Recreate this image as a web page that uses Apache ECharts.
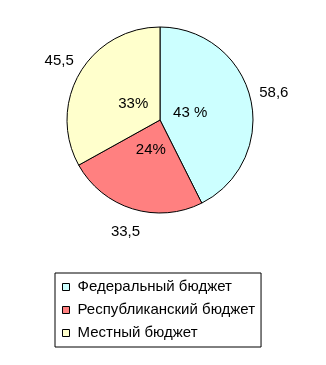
<!DOCTYPE html>
<html>
<head>
<meta charset="utf-8">
<script src="https://cdn.jsdelivr.net/npm/echarts@6/dist/echarts.min.js"></script>
<style>html,body{margin:0;padding:0;background:#fff;}#c{width:326px;height:365px;}</style>
</head>
<body>
<div id="c"></div>
<script>
const categories = ['Федеральный бюджет', 'Республиканский бюджет', 'Местный бюджет'];
const values = [58.6, 33.5, 45.5];
const percentLabels = ['43 %', '24%', '33%'];
const colors = ['#CCFFFF', '#FF8080', '#FFFFCC'];

const font = 'Liberation Sans, Arial, sans-serif';
const chart = echarts.init(document.getElementById('c'), null, {renderer: 'canvas'});

const mainData = categories.map((n, i) => ({name: n, value: values[i], itemStyle: {color: colors[i]}}));
const pctData = categories.map((n, i) => ({name: n, value: values[i], pct: percentLabels[i]}));

chart.setOption({
  animation: false,
  backgroundColor: '#fff',
  legend: {
    orient: 'vertical',
    left: 55,
    top: 273,
    padding: [6, 6, 6, 7],
    itemGap: 7,
    itemWidth: 7,
    itemHeight: 7,
    icon: 'rect',
    borderColor: '#000',
    borderWidth: 1,
    borderRadius: 0,
    backgroundColor: '#fff',
    selectedMode: false,
    itemStyle: {borderColor: '#000', borderWidth: 1},
    textStyle: {fontFamily: font, fontSize: 15, color: '#000', lineHeight: 16, padding: [0, 0, 0, 3]},
    data: categories
  },
  series: [
    {
      type: 'pie',
      center: [160, 120],
      radius: 93,
      startAngle: 90,
      clockwise: true,
      silent: true,
      itemStyle: {borderColor: '#000', borderWidth: 1},
      label: {show: false},
      labelLine: {show: false},
      data: mainData
    },
    {
      type: 'pie',
      center: [160, 120],
      radius: [0, 56],
      startAngle: 90,
      clockwise: true,
      silent: true,
      itemStyle: {color: 'rgba(0,0,0,0)', borderWidth: 0},
      label: {
        show: true, position: 'inside', color: '#000', fontFamily: font, fontSize: 15,
        formatter: p => p.data.pct
      },
      labelLine: {show: false},
      data: pctData
    },
    {
      type: 'pie',
      center: [160, 120],
      radius: [100, 128],
      startAngle: 90,
      clockwise: true,
      silent: true,
      itemStyle: {color: 'rgba(0,0,0,0)', borderWidth: 0},
      label: {
        show: true, position: 'inside', color: '#000', fontFamily: font, fontSize: 15,
        formatter: p => String(p.value).replace('.', ',')
      },
      labelLine: {show: false},
      data: categories.map((n, i) => ({name: n, value: values[i]}))
    }
  ]
});
</script>
</body>
</html>
